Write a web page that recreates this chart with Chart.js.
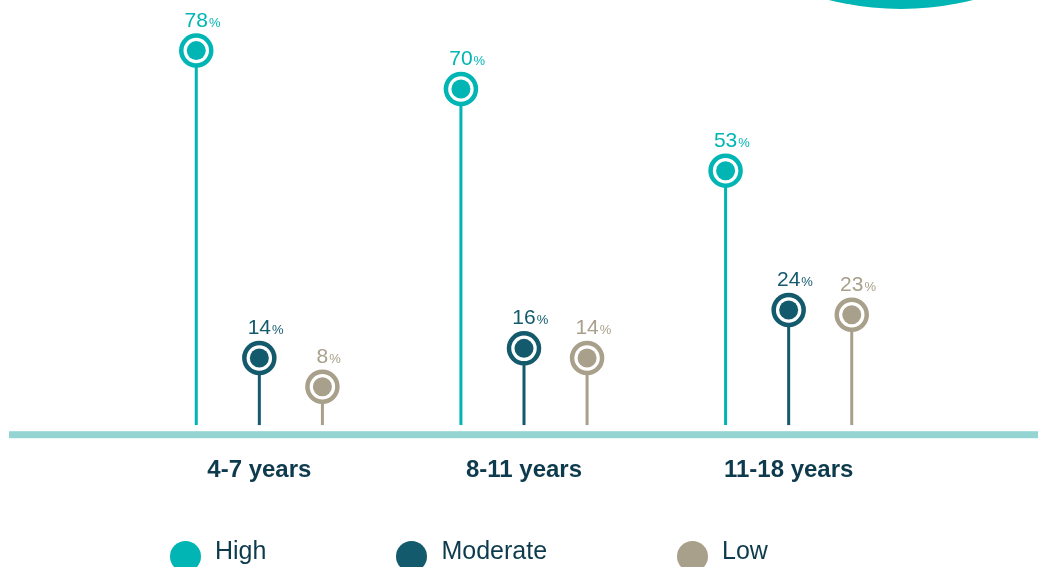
<!DOCTYPE html>
<html>
<head>
<meta charset="utf-8">
<script src="https://cdn.jsdelivr.net/npm/chart.js@4.4.0/dist/chart.umd.min.js"></script>
<style>
  html, body { margin: 0; padding: 0; background: #fff; }
  #wrap { position: relative; width: 1038px; height: 567px; overflow: hidden; font-family: "Liberation Sans", Arial, sans-serif; }
  #blob { position: absolute; left: 607px; top: -579px; width: 588px; height: 588px; border-radius: 50%; background: #00b5b3; }
  #chart { position: absolute; left: 0; top: 0; }
  #legend { position: absolute; left: 170px; top: 535px; display: flex; gap: 130px; }
  .item { display: flex; align-items: flex-start; }
  .dot { width: 31px; height: 31px; border-radius: 50%; margin-top: 6px; margin-right: 14px; }
  .txt { font-size: 25px; line-height: 30px; color: #0d3b4d; }
</style>
</head>
<body>
<div id="wrap">
  <div id="blob"></div>
  <canvas id="chart" width="1038" height="567"></canvas>
  <div id="legend"></div>
</div>
<script>
    "use strict";

    // Data
    const categories = ["4-7 years", "8-11 years", "11-18 years"];
    const seriesNames = ["High", "Moderate", "Low"];
    const highValues = [78, 70, 53];
    const moderateValues = [14, 16, 24];
    const lowValues = [8, 14, 23];
    const seriesColors = ["#00b5b3", "#135a6c", "#a9a08b"];
    const axisMax = 80;

    const seriesValues = [highValues, moderateValues, lowValues];


    // Rings, dots and value labels on top of each stem
    const lollipopPlugin = {
        id: "lollipop",
        beforeDatasetsDraw(chart) {
            const ctx = chart.ctx;
            const area = chart.chartArea;
            ctx.save();
            ctx.fillStyle = "#94d5d4";
            ctx.fillRect(9, area.bottom + 6, chart.width - 9, 7);
            ctx.restore();
        },
        afterDatasetsDraw(chart) {
            const ctx = chart.ctx;
            chart.data.datasets.forEach(function (ds, i) {
                const meta = chart.getDatasetMeta(i);
                meta.data.forEach(function (bar, j) {
                    const x = bar.x, y = bar.y;
                    ctx.save();
                    ctx.beginPath();
                    ctx.arc(x, y, 15, 0, Math.PI * 2);
                    ctx.fillStyle = "#fff";
                    ctx.fill();
                    ctx.lineWidth = 4.5;
                    ctx.strokeStyle = ds.backgroundColor;
                    ctx.stroke();
                    ctx.beginPath();
                    ctx.arc(x, y, 9.5, 0, Math.PI * 2);
                    ctx.fillStyle = ds.backgroundColor;
                    ctx.fill();

                    // value label: number centred, small % after it
                    const num = String(ds.data[j]);
                    ctx.fillStyle = ds.backgroundColor;
                    ctx.textBaseline = "alphabetic";
                    ctx.font = "21px 'Liberation Sans', Arial, sans-serif";
                    const w = ctx.measureText(num).width;
                    ctx.textAlign = "left";
                    ctx.fillText(num, x - w / 2, y - 24);
                    ctx.font = "13px 'Liberation Sans', Arial, sans-serif";
                    ctx.fillText("%", x + w / 2 + 1, y - 24);
                    ctx.restore();
                });
            });
        }
    };


    // Chart
    const ctx1 = document.getElementById("chart").getContext("2d");
    const myChart1 = new Chart(ctx1, {
        type: "bar",
        data: {
            labels: categories,
            datasets: seriesNames.map(function (name, i) {
                return {
                    label: name,
                    data: seriesValues[i],
                    backgroundColor: seriesColors[i],
                    borderWidth: 0,
                    maxBarThickness: 3,
                    barPercentage: 1,
                    categoryPercentage: 0.715
                };
            })
        },
        options: {
            responsive: false,
            animation: false,
            devicePixelRatio: 1,
            layout: {
                padding: { left: 127, right: 117, top: 41, bottom: 51 }
            },
            plugins: {
                legend: { display: false },
                tooltip: { enabled: false }
            },
            scales: {
                x: {
                    grid: { display: false, drawTicks: false },
                    border: { display: false },
                    ticks: {
                        padding: 31,
                        color: "#0d3b4d",
                        font: { family: "'Liberation Sans', Arial, sans-serif", size: 24, weight: "bold" }
                    }
                },
                y: {
                    display: false,
                    min: 0,
                    max: axisMax
                }
            }
        },
        plugins: [lollipopPlugin]
    });


    // Legend
    const legend = document.getElementById("legend");
    seriesNames.forEach(function (name, i) {
        const item = document.createElement("div");
        item.className = "item";
        const dot = document.createElement("div");
        dot.className = "dot";
        dot.style.background = seriesColors[i];
        const txt = document.createElement("span");
        txt.className = "txt";
        txt.textContent = name;
        item.appendChild(dot);
        item.appendChild(txt);
        legend.appendChild(item);
    });
</script>
</body>
</html>
